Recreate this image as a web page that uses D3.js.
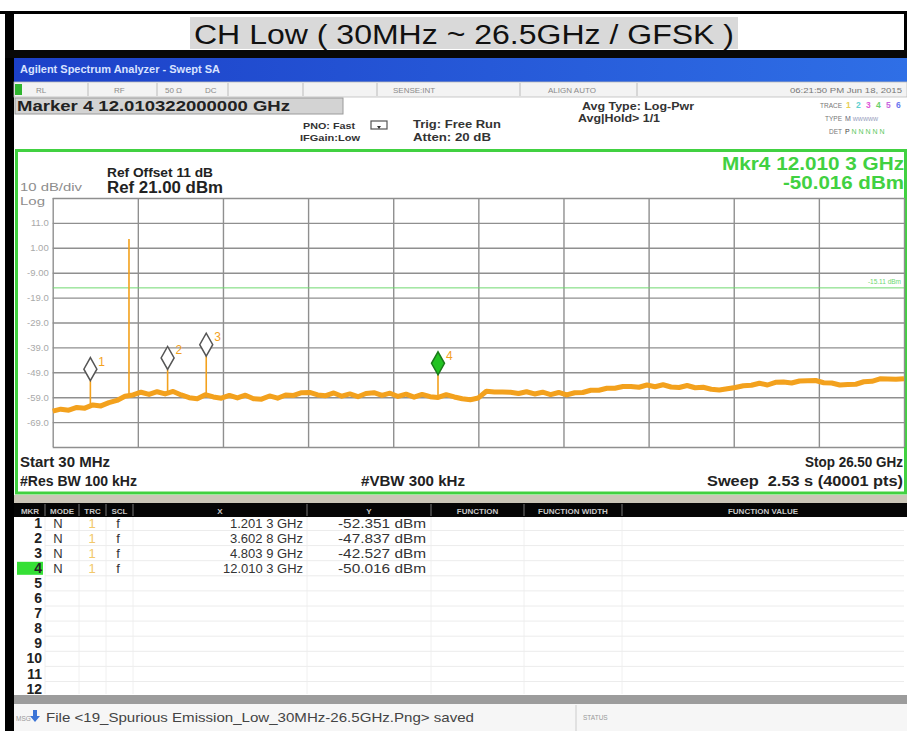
<!DOCTYPE html>
<html>
<head>
<meta charset="utf-8">
<script src="https://cdn.jsdelivr.net/npm/d3@7"></script>
<style>
  html, body { margin: 0; padding: 0; background: #fff; }
  svg { display: block; }
  text { font-family: "Liberation Sans", Arial, sans-serif; white-space: pre; }
</style>
</head>
<body>
<svg id="chart" width="907" height="731"></svg>
<script>
// ---- data ----
const titleText = 'CH Low ( 30MHz ~ 26.5GHz / GFSK )';
const startGHz = 0.03;
const stopGHz = 26.5;
const refLevel = 21;      // dBm, top line
const dbPerDiv = 10;
const numDivs = 10;
const yTickLabels = ['11.0', '1.00', '-9.00', '-19.0', '-29.0', '-39.0', '-49.0', '-59.0', '-69.0'];

// noise floor of trace 1, one reading per ~0.25 GHz across the sweep (dBm)
const traceLevels = [
  -64.6, -63.8, -64.2, -63.1, -63.4, -62.1, -62.5, -61.2, -60.3, -58.6,
  -58.1, -57.0, -57.9, -56.8, -57.7, -56.7, -58.1, -59.2, -59.6, -58.0,
  -58.9, -59.4, -58.3, -59.3, -58.2, -59.6, -59.8, -58.5, -59.4, -58.1,
  -58.3, -57.2, -57.1, -58.1, -58.4, -57.3, -58.6, -57.7, -58.8, -57.5,
  -57.2, -58.3, -57.4, -58.7, -57.8, -59.0, -57.9, -58.8, -59.1, -58.0,
  -58.9, -59.6, -60.0, -59.3, -56.6, -56.9, -56.9, -57.0, -57.5, -56.8,
  -57.7, -57.0, -58.0, -57.1, -58.1, -57.2, -57.1, -56.2, -56.2, -55.4,
  -55.4, -54.7, -54.7, -55.0, -54.1, -54.8, -54.0, -54.9, -55.1, -54.3,
  -55.2, -55.0, -55.8, -56.1, -55.6, -55.1, -54.4, -54.2, -53.4, -54.1,
  -53.0, -52.9, -53.3, -52.5, -52.4, -52.3, -53.2, -53.3, -54.1, -53.9,
  -53.8, -52.8, -52.6, -51.6, -51.7, -51.8, -51.6
];

// narrow spikes on the trace (carrier + spurs)
const spurFreqs = [1.2013, 2.402, 3.6028, 4.8039, 12.0103];
const spurPeaks = [-52.351, 4.5, -47.837, -42.527, -50.016];
const spurBases = [-62.6, -58.7, -57.2, -58.1, -58.8];

// markers
const markerIds = [1, 2, 3, 4];
const markerFreqs = [1.2013, 3.6028, 4.8039, 12.0103];
const markerLevels = [-52.351, -47.837, -42.527, -50.016];
const markerXText = ['1.201 3 GHz', '3.602 8 GHz', '4.803 9 GHz', '12.010 3 GHz'];
const markerYText = ['-52.351 dBm', '-47.837 dBm', '-42.527 dBm', '-50.016 dBm'];
const activeMarker = 4;

const displayLine = -15.1;
const displayLineText = '-15.11 dBm';

const tableHeaders = ['MKR', 'MODE', 'TRC', 'SCL', 'X', 'Y', 'FUNCTION', 'FUNCTION WIDTH', 'FUNCTION VALUE'];
const tableRowCount = 12;

// ---- layout ----
const W = 907, H = 731;
const gx0 = 52.7, gx1 = 904, gy0 = 198, gy1 = 447;
const GREEN = '#41d141';
const ORANGE = '#f3a11d';

const svg = d3.select('#chart');

const x = d3.scaleLinear().domain([startGHz, stopGHz]).range([gx0, gx1]);
const y = d3.scaleLinear().domain([refLevel - dbPerDiv * numDivs, refLevel]).range([gy1, gy0]);

// small helper for plain labels
function txt(o) {
  const t = svg.append('text')
      .attr('x', o.x).attr('y', o.y)
      .attr('font-size', o.size || 10)
      .attr('fill', o.fill || '#222')
      .attr('text-anchor', o.anchor || 'start')
      .text(o.t);
  if (o.bold) t.attr('font-weight', 'bold');
  if (o.len) t.attr('textLength', o.len).attr('lengthAdjust', 'spacingAndGlyphs');
  return t;
}

// ---- outer frame and title ----
svg.append('rect').attr('width', W).attr('height', H).attr('fill', '#fff');
svg.append('rect').attr('x', 0).attr('y', 11).attr('width', W).attr('height', 3).attr('fill', '#000');
svg.append('rect').attr('x', 5).attr('y', 11).attr('width', 9).attr('height', H - 11).attr('fill', '#000');
svg.append('rect').attr('x', 904).attr('y', 11).attr('width', 3).attr('height', 40).attr('fill', '#000');

svg.append('rect').attr('x', 190).attr('y', 17).attr('width', 548).attr('height', 32).attr('fill', '#d9d9d9');
txt({ t: titleText, x: 464, y: 44, size: 27, fill: '#111', anchor: 'middle', len: 540 });

// ---- analyzer header ----
svg.append('rect').attr('x', 5).attr('y', 50).attr('width', W - 5).attr('height', 8).attr('fill', '#080808');

const blue = svg.append('defs').append('linearGradient').attr('id', 'blueBar');
blue.append('stop').attr('offset', '0%').attr('stop-color', '#1c40c8');
blue.append('stop').attr('offset', '100%').attr('stop-color', '#2f6fe6');
svg.append('rect').attr('x', 14).attr('y', 58).attr('width', W - 14).attr('height', 24).attr('fill', 'url(#blueBar)');
txt({ t: 'Agilent Spectrum Analyzer - Swept SA', x: 20, y: 73, size: 10, bold: true, fill: '#d8e2ff', len: 200 });

// status strip
svg.append('rect').attr('x', 14).attr('y', 82).attr('width', W - 14).attr('height', 15)
    .attr('fill', '#f3f3f3').attr('stroke', '#bbb').attr('stroke-width', 0.8);
[88, 157, 228, 303, 377, 520, 637].forEach((cx) => {
  svg.append('line').attr('x1', cx).attr('x2', cx).attr('y1', 83).attr('y2', 96)
      .attr('stroke', '#bbb').attr('stroke-width', 1);
});
svg.append('rect').attr('x', 15).attr('y', 84).attr('width', 7).attr('height', 11).attr('fill', '#2fb52f');
[
  { t: 'RL', x: 36 }, { t: 'RF', x: 114 }, { t: '50 Ω', x: 165 }, { t: 'DC', x: 205 },
  { t: 'SENSE:INT', x: 393 }, { t: 'ALIGN AUTO', x: 548 },
].forEach((s) => txt({ t: s.t, x: s.x, y: 93, size: 8, fill: '#8a8a8a' }));
txt({ t: '06:21:50 PM Jun 18, 2015', x: 902, y: 93, size: 8, fill: '#777', anchor: 'end', len: 112 });

// marker readout box
svg.append('rect').attr('x', 15).attr('y', 98).attr('width', 328).attr('height', 16)
    .attr('fill', '#d3d3d3').attr('stroke', '#9a9a9a').attr('stroke-width', 1);
txt({ t: `Marker ${activeMarker} 12.010322000000 GHz`, x: 17, y: 111, size: 14, bold: true, len: 273 });

txt({ t: 'PNO: Fast', x: 303, y: 129, size: 8.5, bold: true, fill: '#333', len: 52 });
txt({ t: 'IFGain:Low', x: 300, y: 141, size: 8.5, bold: true, fill: '#333', len: 60 });
txt({ t: 'Trig: Free Run', x: 413, y: 128, size: 10.5, bold: true, fill: '#333', len: 88 });
txt({ t: 'Atten: 20 dB', x: 413, y: 141, size: 10.5, bold: true, fill: '#333', len: 78 });
txt({ t: 'Avg Type: Log-Pwr', x: 582, y: 110, size: 11, bold: true, fill: '#333', len: 112 });
txt({ t: 'Avg|Hold> 1/1', x: 578, y: 122, size: 10.5, bold: true, fill: '#333', len: 82 });

// little trigger icon
svg.append('rect').attr('x', 371).attr('y', 121).attr('width', 16).attr('height', 8)
    .attr('fill', 'none').attr('stroke', '#555').attr('stroke-width', 1.2);
svg.append('path').attr('d', 'M377,126 L381,126 L379,129 Z').attr('fill', '#333');

['TRACE', 'TYPE', 'DET'].forEach((t, i) => {
  txt({ t, x: 842, y: 108 + i * 13, size: 6.5, fill: '#777', anchor: 'end' });
});
const traceColors = ['#e8cf55', '#5fd0d0', '#e055d8', '#6ad06a', '#c766e0', '#6a78f0'];
traceColors.forEach((c, i) => {
  txt({ t: String(i + 1), x: 846 + i * 10, y: 108, size: 8.5, bold: true, fill: c });
});
svg.append('text').attr('x', 845).attr('y', 121).attr('font-size', 7).attr('fill', '#667')
    .text('M').append('tspan').attr('fill', '#9aa3c0').text(' wwwww');
svg.append('text').attr('x', 845).attr('y', 134).attr('font-size', 7).attr('fill', '#444')
    .text('P').append('tspan').attr('fill', '#5cc85c').text(' N N N N N');

// ---- plot panel ----
svg.append('rect').attr('x', 16.5).attr('y', 150.5).attr('width', 889).attr('height', 342.5)
    .attr('fill', '#fff').attr('stroke', GREEN).attr('stroke-width', 3);

txt({ t: 'Ref Offset 11 dB', x: 107, y: 177, size: 12, bold: true, len: 106 });
txt({ t: `Ref ${refLevel.toFixed(2)} dBm`, x: 107, y: 193, size: 16, bold: true, len: 116 });
txt({ t: `${dbPerDiv} dB/div`, x: 20, y: 191, size: 10.5, fill: '#8d8d8d', len: 62 });
txt({ t: 'Log', x: 20, y: 205, size: 10.5, fill: '#8d8d8d', len: 25 });

txt({ t: `Mkr${activeMarker} ${markerXText[activeMarker - 1]}`, x: 904, y: 170, size: 18,
  bold: true, fill: GREEN, anchor: 'end', len: 182 });
txt({ t: markerYText[activeMarker - 1], x: 904, y: 189, size: 18,
  bold: true, fill: GREEN, anchor: 'end', len: 121 });

// grid via axes
const gridColor = '#8f8f8f';
const xTicks = d3.range(0, numDivs + 1).map((k) => startGHz + k * (stopGHz - startGHz) / numDivs);
const yTicks = d3.range(0, numDivs + 1).map((k) => refLevel - k * dbPerDiv);

const gx = svg.append('g').attr('transform', `translate(0,${gy1})`)
    .call(d3.axisBottom(x).tickValues(xTicks).tickSize(-(gy1 - gy0)).tickFormat(''));
const gy = svg.append('g').attr('transform', `translate(${gx0},0)`)
    .call(d3.axisLeft(y).tickValues(yTicks).tickSize(-(gx1 - gx0)).tickPadding(4)
      .tickFormat((d, i) => (i > 0 && i < numDivs ? yTickLabels[i - 1] : '')));
[gx, gy].forEach((g) => {
  g.select('.domain').remove();
  g.selectAll('.tick line').attr('stroke', gridColor).attr('stroke-width', 1.4);
});
gy.selectAll('.tick text').attr('fill', '#a9a9a9').attr('font-size', 9.5)
    .attr('font-family', '"Liberation Sans", Arial, sans-serif');

// display line
svg.append('line').attr('x1', gx0).attr('x2', gx1).attr('y1', y(displayLine)).attr('y2', y(displayLine))
    .attr('stroke', '#6fd86f').attr('stroke-width', 1);
txt({ t: displayLineText, x: 901, y: y(displayLine) - 4, size: 6.5, fill: '#6fd86f', anchor: 'end' });

// trace
const traceStep = (stopGHz - startGHz) / (traceLevels.length - 1);
const tracePts = traceLevels.map((v, i) => ({ f: startGHz + i * traceStep, v }));
svg.append('path')
    .datum(tracePts)
    .attr('fill', 'none')
    .attr('stroke', ORANGE)
    .attr('stroke-width', 5)
    .attr('stroke-linejoin', 'round')
    .attr('d', d3.line().x((d) => x(d.f)).y((d) => y(d.v)));

spurFreqs.forEach((f, i) => {
  svg.append('line')
      .attr('x1', x(f)).attr('x2', x(f))
      .attr('y1', y(spurBases[i])).attr('y2', y(spurPeaks[i]))
      .attr('stroke', ORANGE).attr('stroke-width', 1.6);
});

// marker diamonds
markerIds.forEach((id, i) => {
  const mx = x(markerFreqs[i]);
  const my = y(markerLevels[i]);
  const isActive = id === activeMarker;
  svg.append('path')
      .attr('d', `M${mx},${my} L${mx + 6.5},${my - 11.5} L${mx},${my - 23} L${mx - 6.5},${my - 11.5} Z`)
      .attr('fill', isActive ? '#22c322' : '#fff')
      .attr('stroke', isActive ? '#1a7a1a' : '#555')
      .attr('stroke-width', 1.5);
  txt({ t: String(id), x: mx + 8, y: my - 15, size: 12, fill: ORANGE });
});

// bottom annotations
[
  { t: `Start ${Math.round(startGHz * 1000)} MHz`, x: 20, y: 467, a: 'start', len: 90 },
  { t: `Stop ${stopGHz.toFixed(2)} GHz`, x: 903, y: 467, a: 'end', len: 98 },
  { t: '#Res BW 100 kHz', x: 20, y: 486, a: 'start', len: 117 },
  { t: '#VBW 300 kHz', x: 413, y: 486, a: 'middle', len: 104 },
  { t: 'Sweep  2.53 s (40001 pts)', x: 903, y: 486, a: 'end', len: 196 },
].forEach((b) => txt({ t: b.t, x: b.x, y: b.y, size: 14, bold: true, anchor: b.a, len: b.len }));

// ---- marker table ----
svg.append('rect').attr('x', 14).attr('y', 495).attr('width', W - 14).attr('height', 8).attr('fill', '#cbc6b8');
svg.append('rect').attr('x', 14).attr('y', 503).attr('width', W - 14).attr('height', 14).attr('fill', '#050505');
svg.append('rect').attr('x', 14).attr('y', 517).attr('width', W - 14).attr('height', 178).attr('fill', '#fff');

const colEdges = [15, 45, 79, 106, 133, 307, 431, 524, 622, 904];
tableHeaders.forEach((h, i) => {
  const cx = (colEdges[i] + colEdges[i + 1]) / 2;
  txt({ t: h, x: cx, y: 514, size: 8, bold: true, fill: '#c9c9c9', anchor: 'middle' });
  if (i > 0) {
    svg.append('line').attr('x1', colEdges[i]).attr('x2', colEdges[i]).attr('y1', 504).attr('y2', 516)
        .attr('stroke', '#777').attr('stroke-width', 1);
    svg.append('line').attr('x1', colEdges[i]).attr('x2', colEdges[i]).attr('y1', 517).attr('y2', 694)
        .attr('stroke', '#f0f0f0').attr('stroke-width', 1);
  }
});

const rowY = (r) => 527.5 + r * 15.1;
d3.range(tableRowCount).forEach((r) => {
  svg.append('line').attr('x1', 45).attr('x2', 904).attr('y1', rowY(r) + 3).attr('y2', rowY(r) + 3)
      .attr('stroke', '#ececec').attr('stroke-width', 1);
  if (r + 1 === activeMarker) {
    svg.append('rect').attr('x', 17).attr('y', rowY(r) - 11).attr('width', 26).attr('height', 13)
        .attr('fill', '#35e035');
  }
  txt({ t: String(r + 1), x: 42, y: rowY(r), size: 14, bold: true, anchor: 'end' });
});

markerIds.forEach((id, i) => {
  const ry = rowY(id - 1);
  txt({ t: 'N', x: 58, y: ry, size: 13, fill: '#333', anchor: 'middle' });
  txt({ t: '1', x: 92, y: ry, size: 13, fill: '#f2c86a', anchor: 'middle' });
  txt({ t: 'f', x: 118, y: ry, size: 13, fill: '#333', anchor: 'middle' });
  txt({ t: markerXText[i], x: 303, y: ry, size: 13.5, fill: '#333', anchor: 'end', len: markerXText[i].length * 7 - 4 });
  txt({ t: markerYText[i], x: 426, y: ry, size: 13.5, fill: '#333', anchor: 'end', len: 88 });
});

// ---- status bar ----
svg.append('rect').attr('x', 14).attr('y', 695).attr('width', W - 14).attr('height', 9).attr('fill', '#9c9c9c');
svg.append('rect').attr('x', 14).attr('y', 704).attr('width', W - 14).attr('height', 27).attr('fill', '#f6f6f6');
svg.append('line').attr('x1', 576).attr('x2', 576).attr('y1', 705).attr('y2', 731).attr('stroke', '#ccc');
txt({ t: 'MSG', x: 16, y: 721, size: 6.5, fill: '#999' });
svg.append('path').attr('d', 'M33,710 L37,710 L37,716 L40,716 L35,722 L30,716 L33,716 Z').attr('fill', '#3b74d6');
txt({ t: 'File <19_Spurious Emission_Low_30MHz-26.5GHz.Png> saved', x: 46, y: 722, size: 13,
  fill: '#444', len: 428 });
txt({ t: 'STATUS', x: 583, y: 720, size: 6.5, fill: '#999' });
</script>
</body>
</html>
